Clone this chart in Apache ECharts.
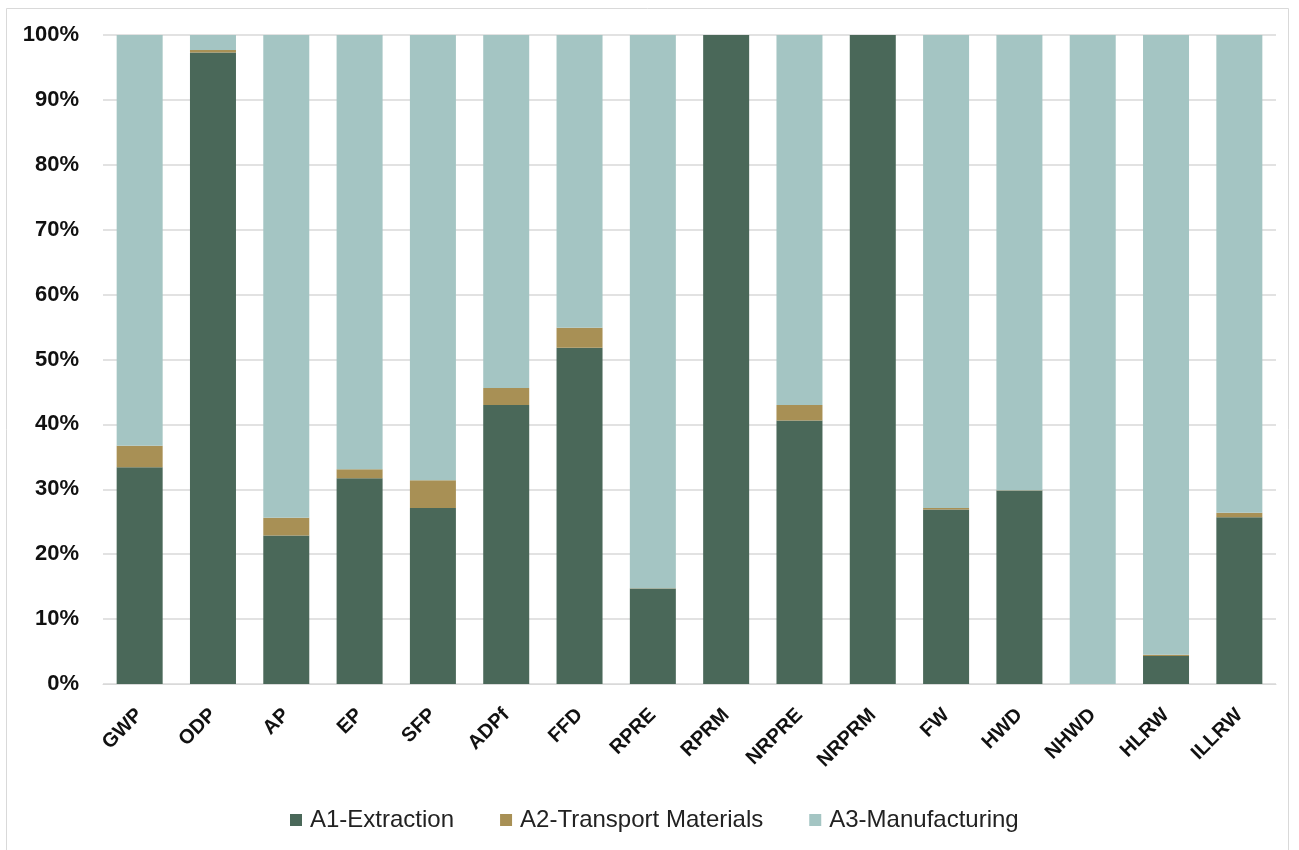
<!DOCTYPE html>
<html>
<head>
<meta charset="utf-8">
<script src="https://cdn.jsdelivr.net/npm/echarts@6/dist/echarts.min.js"></script>
<style>
html,body{margin:0;padding:0;background:#fff;}
#c{width:1299px;height:850px;}
</style>
</head>
<body>
<div id="c"></div>
<script>
const categories = ["GWP","ODP","AP","EP","SFP","ADPf","FFD","RPRE","RPRM","NRPRE","NRPRM","FW","HWD","NHWD","HLRW","ILLRW"];
const a1Extraction = [33.4, 97.3, 22.9, 31.7, 27.1, 43.0, 51.8, 14.7, 100, 40.6, 100, 26.9, 29.8, 0, 4.3, 25.7];
const a2Transport  = [3.3, 0.4, 2.7, 1.4, 4.3, 2.6, 3.1, 0.05, 0, 2.4, 0, 0.2, 0.05, 0, 0.2, 0.7];
const a3Manufacturing = categories.map((c, i) => +(100 - a1Extraction[i] - a2Transport[i]).toFixed(2));
const seriesNames = ["A1-Extraction", "A2-Transport Materials", "A3-Manufacturing"];
const yTicks = [0,10,20,30,40,50,60,70,80,90,100];

const colors = ["#4a6859", "#a89055", "#a4c5c3"];
const font = "'Liberation Sans', Arial, sans-serif";
const chart = echarts.init(document.getElementById('c'), null, {renderer: 'canvas'});
const mk = (name, data, color) => ({
  name, type: 'bar', stack: 'total', data,
  barWidth: 46,
  itemStyle: {color},
  emphasis: {disabled: true}
});
chart.setOption({
  animation: false,
  backgroundColor: '#fff',
  graphic: [{
    type: 'rect', silent: true,
    shape: {x: 6.5, y: 8.5, width: 1282, height: 850},
    style: {fill: 'none', stroke: '#d9d9d9', lineWidth: 1}
  }],
  grid: {left: 103, right: 23, top: 35, bottom: 166},
  legend: {
    left: 285, top: 803,
    itemWidth: 12, itemHeight: 12, itemGap: 46,
    icon: 'rect',
    textStyle: {fontFamily: font, fontSize: 24, color: '#222', padding: [0,0,0,3]},
    data: seriesNames
  },
  xAxis: {
    type: 'category', data: categories,
    axisLine: {lineStyle: {color: '#d9d9d9', width: 1}},
    axisTick: {show: false},
    axisLabel: {rotate: 45, fontFamily: font, fontWeight: 'bold', fontSize: 20, color: '#111', margin: 28, interval: 0}
  },
  yAxis: {
    type: 'value', min: 0, max: 100, interval: 10,
    axisLine: {show: false}, axisTick: {show: false},
    splitLine: {lineStyle: {color: '#d9d9d9', width: 1.5}},
    axisLabel: {
      fontFamily: font, fontWeight: 'bold', fontSize: 22, color: '#111', margin: 24,
      formatter: v => yTicks.includes(v) ? v + '%' : ''
    }
  },
  series: [
    mk(seriesNames[0], a1Extraction, colors[0]),
    mk(seriesNames[1], a2Transport, colors[1]),
    mk(seriesNames[2], a3Manufacturing, colors[2])
  ]
});
</script>
</body>
</html>
